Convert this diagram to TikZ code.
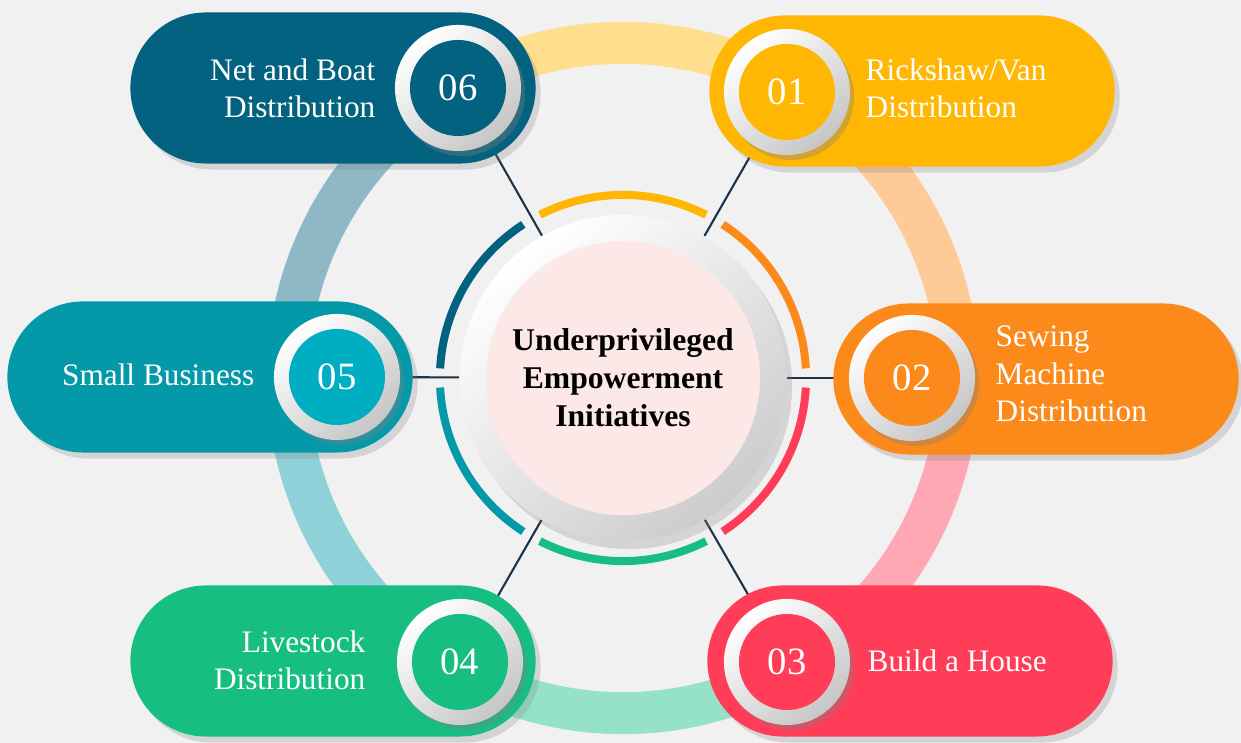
\documentclass[tikz,border=0pt]{standalone}
\usepackage{xcolor}
\usepackage{fontspec}
\setmainfont{Liberation Serif}
\usepackage{tikz}
\usetikzlibrary{shapes.misc, shadows, backgrounds}
\definecolor{cyel}{HTML}{FFB703}
\definecolor{corg}{HTML}{FB8A1A}
\definecolor{cred}{HTML}{FF3D58}
\definecolor{cgrn}{HTML}{16BE82}
\definecolor{ctea}{HTML}{0499A8}
\definecolor{ccyn}{HTML}{00AEC1}
\definecolor{cblu}{HTML}{03627F}
\definecolor{cnavy}{HTML}{1C3349}
\definecolor{cpink}{HTML}{FDE8E8}
\definecolor{cbg}{HTML}{F1F1F1}
\tikzstyle{pill} = [rounded rectangle, minimum width=4.05cm, minimum height=1.51cm, inner sep=0pt,
  drop shadow={opacity=0.25, shadow xshift=0.5mm, shadow yshift=-0.6mm}]
\tikzstyle{ringbox} = [circle, minimum size=1.26cm, inner sep=0pt, top color=white, bottom color=gray!45,
  shading angle=40, drop shadow={opacity=0.35, shadow xshift=0.4mm, shadow yshift=-0.5mm}]
\tikzstyle{num} = [circle, minimum size=0.96cm, inner sep=0pt, text=white, font=\fontsize{11}{13}\selectfont]
\tikzstyle{lbl} = [text=white, font=\fontsize{8.9}{10.6}\selectfont, inner sep=0pt]
\tikzstyle{link} = [cnavy, line width=0.6pt]
\newcommand{\hubtxt}[1]{\textbf{#1}}

\begin{document}
\begin{tikzpicture}[x=0.01cm, y=0.01cm]
  \useasboundingbox (0,0) rectangle (1241,743);
  \begin{pgfonlayer}{background}
    \fill[cbg] (0,0) rectangle (1241,743);
  \end{pgfonlayer}
  \coordinate (o) at (623,365);
  % faded outer ring and coloured inner ring
  \foreach \a/\c in {60/cyel, 0/corg, -60/cred, -120/cgrn, 180/ctea, 120/cblu} {
    \draw[line width=0.42cm, \c!45] (o) ++(\a:3.35cm) arc (\a:\a+60:3.35cm);
    \draw[line width=0.08cm, \c] (o) ++(\a+3:1.83cm) arc (\a+3:\a+57:1.83cm);
  }
  % hub
  \node[circle, minimum size=3.26cm, inner sep=0pt, top color=white, bottom color=gray!40, shading angle=40,
        drop shadow={opacity=0.25, shadow xshift=0.6mm, shadow yshift=-0.8mm}] (hub) at (o) {};
  \node[circle, minimum size=2.74cm, inner sep=0pt, fill=cpink, align=center,
        font=\fontsize{9}{10.8}\selectfont] (core) at (o)
        {\hubtxt{Underprivileged}\\\hubtxt{Empowerment}\\\hubtxt{Initiatives}};

  % 06
  \node[pill, fill=cblu] (p06) at (333,655) {};
  \node[ringbox] (r06) at (458,655) {};
  \node[num, fill=cblu] (n06) at (r06) {06};
  \node[lbl, anchor=east, align=right] (t06) at (376,655) {Net and Boat\\Distribution};
  % 01
  \node[pill, fill=cyel] (p01) at (912,652) {};
  \node[ringbox] (r01) at (787,651) {};
  \node[num, fill=cyel] (n01) at (r01) {01};
  \node[lbl, anchor=west, align=left] (t01) at (865,655) {Rickshaw/Van\\Distribution};
  % 05
  \node[pill, fill=ctea] (p05) at (210,366) {};
  \node[ringbox] (r05) at (337,366) {};
  \node[num, fill=ccyn] (n05) at (r05) {05};
  \node[lbl, anchor=east] (t05) at (255,368) {Small Business};
  % 02
  \node[pill, fill=corg] (p02) at (1036,364) {};
  \node[ringbox] (r02) at (912,365) {};
  \node[num, fill=corg] (n02) at (r02) {02};
  \node[lbl, anchor=west, align=left] (t02) at (995,369) {Sewing\\Machine\\Distribution};
  % 03
  \node[pill, fill=cred] (p03) at (910,82) {};
  \node[ringbox] (r03) at (787,81) {};
  \node[num, fill=cred] (n03) at (r03) {03};
  \node[lbl, anchor=west] (t03) at (867,82) {Build a House};
  % 04
  \node[pill, fill=cgrn] (p04) at (333,82) {};
  \node[ringbox] (r04) at (460,81) {};
  \node[num, fill=cgrn] (n04) at (r04) {04};
  \node[lbl, anchor=east, align=right] (t04) at (366,83) {Livestock\\Distribution};

  \begin{pgfonlayer}{background}
    \foreach \n in {01,02,03,04,05,06}
      \draw[link] (hub) -- (r\n);
  \end{pgfonlayer}
\end{tikzpicture}
\end{document}
